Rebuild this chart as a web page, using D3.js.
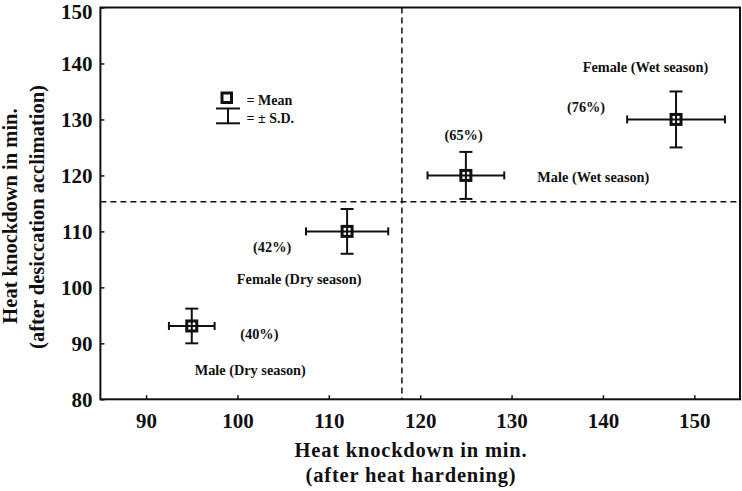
<!DOCTYPE html>
<html><head><meta charset="utf-8">
<script src="https://cdn.jsdelivr.net/npm/d3@7/dist/d3.min.js"></script>
<style>body{margin:0;background:#fff}svg{display:block}text{font-family:"Liberation Serif","Times New Roman",serif;font-weight:bold;fill:#111}</style>
</head><body><svg id="c" width="742" height="491"></svg>
<script>
const groups = ["Male (Dry season)", "Female (Dry season)", "Male (Wet season)", "Female (Wet season)"];
const percents = ["(40%)", "(42%)", "(65%)", "(76%)"];
const xMean = [95, 112, 125, 148];
const xSD = [2.5, 4.5, 4.2, 5.35];
const yMean = [93.1, 110, 120, 130];
const ySD = [3.1, 4, 4.2, 5];
const xTicks = [90, 100, 110, 120, 130, 140, 150];
const yTicks = [80, 90, 100, 110, 120, 130, 140, 150];
const xThreshold = 118;
const yThreshold = 115.3;
// label anchor offsets (in data units) relative to the mean
const nameOffX = [6.4, -5.25, 13.95, -3.35];
const nameOffY = [-7.9, -8.5, -0.25, 9.3];
const pctOffX = [7.4, -8.2, -0.25, -9.85];
const pctOffY = [-1.45, -2.75, 7.2, 2.25];

const svg = d3.select("#c");
const L = 100.4, R = 740, T = 7.5, B = 399.3;
const x = d3.scaleLinear().domain([85, 155]).range([L, R]);
const y = d3.scaleLinear().domain([80, 150]).range([B, T]);
const ink = "#111";

// frame
svg.append("rect").attr("x", L).attr("y", T).attr("width", R - L).attr("height", B - T)
  .attr("fill", "none").attr("stroke", ink).attr("stroke-width", 2);

// axes (inward ticks)
const gx = svg.append("g").attr("transform", `translate(0,${B})`)
  .call(d3.axisBottom(x).tickValues(xTicks).tickSize(-4).tickPadding(14).tickFormat(d3.format("d")));
gx.select(".domain").remove();
gx.selectAll("line").attr("stroke", ink).attr("stroke-width", 1.5);
gx.selectAll("text").attr("font-size", 21).attr("dy", "0.71em").attr("y", 13.5);

const gy = svg.append("g").attr("transform", `translate(${L},0)`)
  .call(d3.axisLeft(y).tickValues(yTicks).tickSize(-4).tickPadding(8).tickFormat(d3.format("d")));
gy.select(".domain").remove();
gy.selectAll("line").attr("stroke", ink).attr("stroke-width", 1.5);
gy.selectAll("text").attr("font-size", 21).attr("x", -8)
  .attr("dy", d => d === 150 ? "0.54em" : "0.34em");

// dashed threshold lines
svg.append("line").attr("x1", x(xThreshold)).attr("x2", x(xThreshold)).attr("y1", T).attr("y2", B)
  .attr("stroke", ink).attr("stroke-width", 1.5).attr("stroke-dasharray", "6,4");
svg.append("line").attr("x1", L).attr("x2", R).attr("y1", y(yThreshold)).attr("y2", y(yThreshold))
  .attr("stroke", ink).attr("stroke-width", 1.5).attr("stroke-dasharray", "6,4");

// axis titles
svg.append("text").attr("x", 411).attr("y", 457).attr("text-anchor", "middle").attr("font-size", 20.5)
  .attr("letter-spacing", 0.8).text("Heat knockdown in min.");
svg.append("text").attr("x", 411).attr("y", 482).attr("text-anchor", "middle").attr("font-size", 20.5)
  .attr("letter-spacing", 0.8).text("(after heat hardening)");
svg.append("text").attr("transform", "translate(17,216) rotate(-90)").attr("text-anchor", "middle")
  .attr("font-size", 20.5).text("Heat knockdown in min.");
svg.append("text").attr("transform", "translate(43.5,217) rotate(-90)").attr("text-anchor", "middle")
  .attr("font-size", 20.5).text("(after desiccation acclimation)");

// data
const idx = d3.range(groups.length);
const g = svg.append("g");
idx.forEach(i => {
  const cx = x(xMean[i]), cy = y(yMean[i]);
  const x0 = x(xMean[i] - xSD[i]), x1 = x(xMean[i] + xSD[i]);
  const y0 = y(yMean[i] - ySD[i]), y1 = y(yMean[i] + ySD[i]);
  const s = g.append("g").attr("stroke", ink).attr("stroke-width", 2).attr("fill", "none");
  s.append("line").attr("x1", x0).attr("x2", x1).attr("y1", cy).attr("y2", cy);
  s.append("line").attr("x1", x0).attr("x2", x0).attr("y1", cy - 4).attr("y2", cy + 4);
  s.append("line").attr("x1", x1).attr("x2", x1).attr("y1", cy - 4).attr("y2", cy + 4);
  s.append("line").attr("x1", cx).attr("x2", cx).attr("y1", y0).attr("y2", y1);
  s.append("line").attr("x1", cx - 6.5).attr("x2", cx + 6.5).attr("y1", y0).attr("y2", y0);
  s.append("line").attr("x1", cx - 6.5).attr("x2", cx + 6.5).attr("y1", y1).attr("y2", y1);
  s.append("rect").attr("x", cx - 5).attr("y", cy - 5).attr("width", 10).attr("height", 10)
    .attr("stroke-width", 3);
  g.append("text").attr("x", x(xMean[i] + nameOffX[i])).attr("y", y(yMean[i] + nameOffY[i]))
    .attr("text-anchor", "middle").attr("dy", "0.35em").attr("font-size", 14.3).text(groups[i]);
  g.append("text").attr("x", x(xMean[i] + pctOffX[i])).attr("y", y(yMean[i] + pctOffY[i]))
    .attr("text-anchor", "middle").attr("dy", "0.35em").attr("font-size", 14.3).text(percents[i]);
});

// legend
const lg = svg.append("g").attr("stroke", ink).attr("fill", "none");
lg.append("rect").attr("x", 222).attr("y", 93).attr("width", 9.5).attr("height", 9.5).attr("stroke-width", 3);
lg.append("line").attr("x1", 216).attr("x2", 240).attr("y1", 108.5).attr("y2", 108.5).attr("stroke-width", 2);
lg.append("line").attr("x1", 228).attr("x2", 228).attr("y1", 108.5).attr("y2", 123.3).attr("stroke-width", 2);
lg.append("line").attr("x1", 216).attr("x2", 240).attr("y1", 123.3).attr("y2", 123.3).attr("stroke-width", 2);
svg.append("text").attr("x", 246.5).attr("y", 100).attr("dy", "0.35em").attr("font-size", 14).text("= Mean");
svg.append("text").attr("x", 246.5).attr("y", 118).attr("dy", "0.35em").attr("font-size", 14).text("= ± S.D.");
</script></body></html>
